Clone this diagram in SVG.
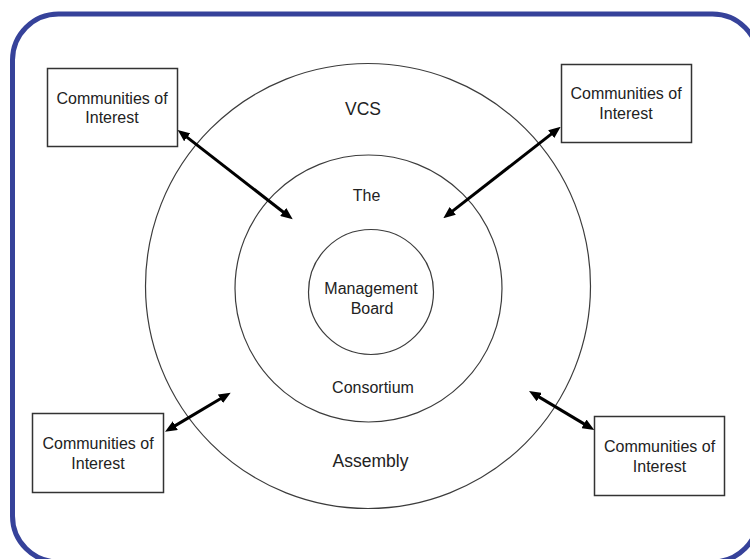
<svg xmlns="http://www.w3.org/2000/svg" width="750" height="559" viewBox="0 0 750 559">
  <style>
    .ring { fill: none; stroke: #3c3c3c; stroke-width: 1.2; }
    .box { fill: #ffffff; stroke: #333333; stroke-width: 1.5; }
    .lbl { font-family: "Liberation Sans", Arial, sans-serif; font-size: 16px; fill: #222222; text-anchor: middle; }
    .big { font-size: 17.5px; }
    .link { stroke: #000000; stroke-width: 3; fill: none; marker-start: url(#head); marker-end: url(#head); }
  </style>
  <defs>
    <marker id="head" viewBox="0 0 12 10" refX="2" refY="5" markerWidth="12" markerHeight="10" markerUnits="userSpaceOnUse" orient="auto-start-reverse">
      <path d="M0,0 L12,5 L0,10 z" fill="#000000"/>
    </marker>
  </defs>

  <rect width="750" height="559" fill="#ffffff"/>
  <!-- rounded frame -->
  <rect x="12.5" y="14" width="746" height="548" rx="46" ry="46" fill="none" stroke="#36429a" stroke-width="5"/>

  <!-- concentric rings -->
  <g id="vcs-assembly">
    <circle class="ring" cx="368" cy="286" r="222.5"/>
    <text class="lbl big" x="363" y="115">VCS</text>
    <text class="lbl big" x="370.5" y="467">Assembly</text>
  </g>
  <g id="consortium">
    <circle class="ring" cx="368.5" cy="288.5" r="133.5"/>
    <text class="lbl" x="366.5" y="201">The</text>
    <text class="lbl" x="373" y="393">Consortium</text>
  </g>
  <g id="management-board">
    <circle class="ring" cx="371" cy="292" r="62.5"/>
    <text class="lbl" x="371" y="294">Management</text>
    <text class="lbl" x="372" y="313.5">Board</text>
  </g>

  <!-- communities boxes -->
  <g id="coi-top-left">
    <rect class="box" x="47.5" y="68.5" width="130" height="78"/>
    <text class="lbl" x="112" y="104">Communities of</text>
    <text class="lbl" x="112" y="123">Interest</text>
  </g>
  <g id="coi-top-right">
    <rect class="box" x="561.5" y="64.5" width="130" height="78"/>
    <text class="lbl" x="626" y="99">Communities of</text>
    <text class="lbl" x="626" y="119">Interest</text>
  </g>
  <g id="coi-bottom-left">
    <rect class="box" x="32.5" y="413.5" width="131" height="79"/>
    <text class="lbl" x="98" y="449">Communities of</text>
    <text class="lbl" x="98" y="469">Interest</text>
  </g>
  <g id="coi-bottom-right">
    <rect class="box" x="594.5" y="416.5" width="130" height="79"/>
    <text class="lbl" x="659.5" y="452">Communities of</text>
    <text class="lbl" x="659.5" y="472">Interest</text>
  </g>

  <!-- two-way links -->
  <g id="connectors">
    <line class="link" x1="185.6" y1="136.1" x2="284.8" y2="213.2"/>
    <line class="link" x1="552.8" y1="132.9" x2="451.2" y2="212.1"/>
    <line class="link" x1="173.6" y1="426.6" x2="222.1" y2="397.8"/>
    <line class="link" x1="537.6" y1="396.1" x2="585.7" y2="424.9"/>
  </g>
</svg>
